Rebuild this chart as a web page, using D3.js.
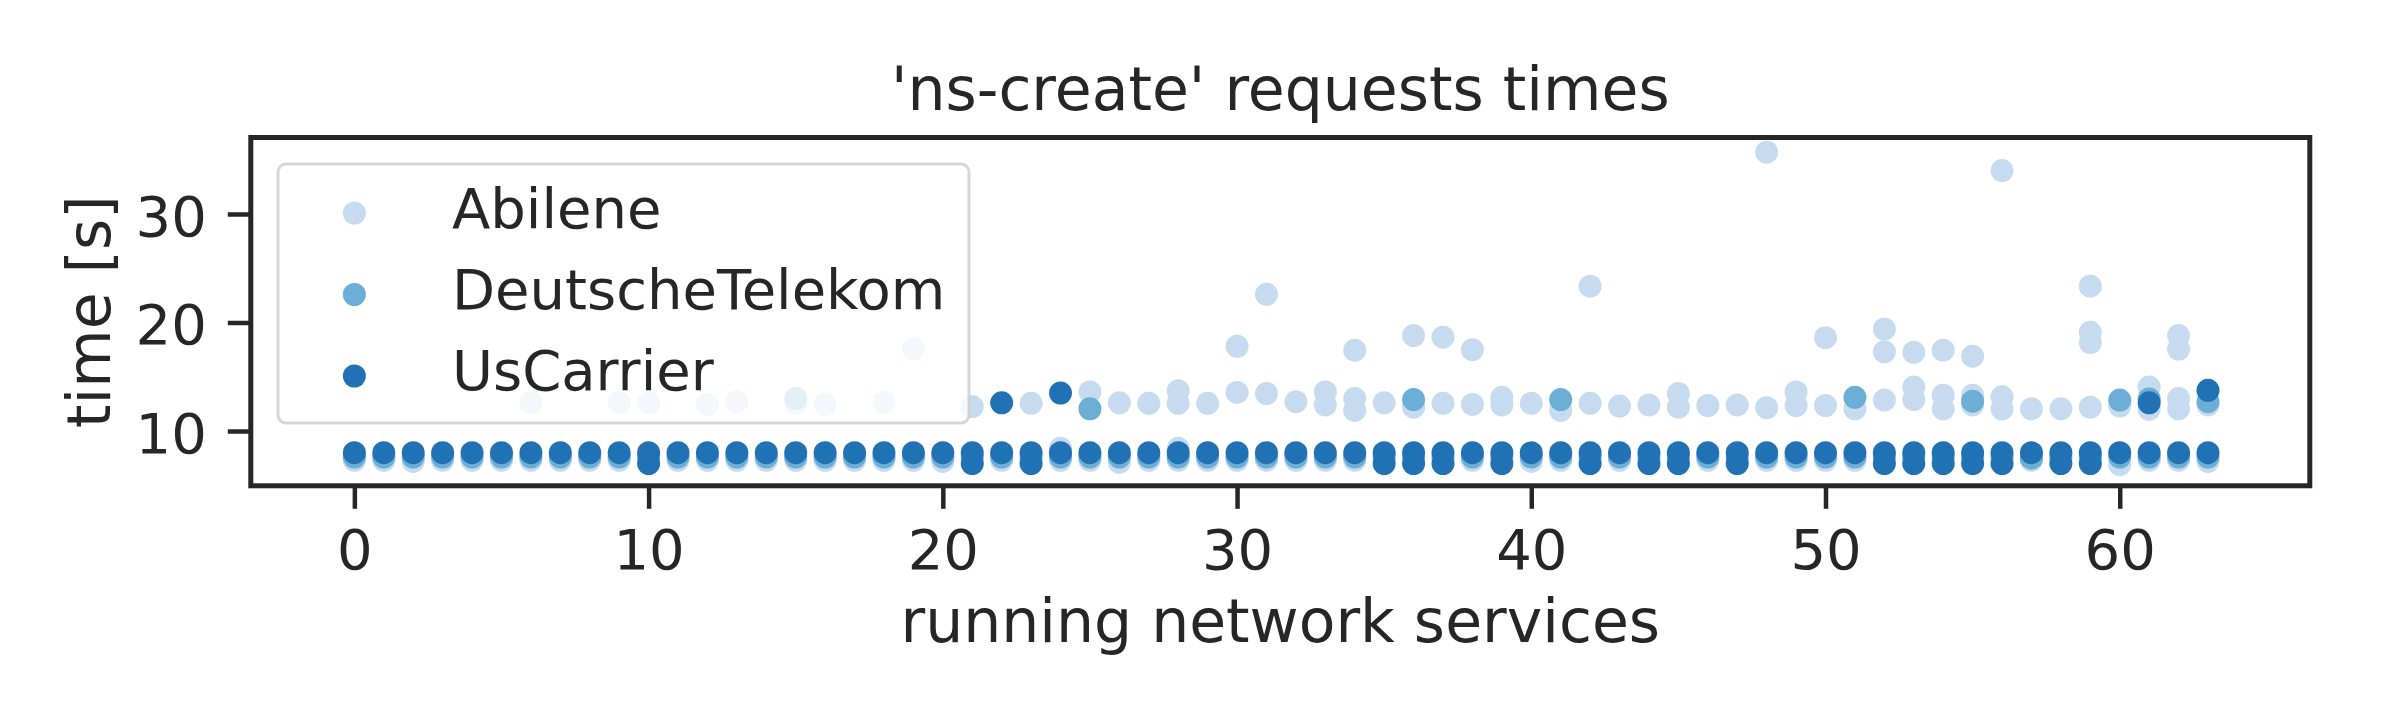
<!DOCTYPE html>
<html>
<head>
<meta charset="utf-8">
<script src="https://cdn.jsdelivr.net/npm/d3@7"></script>
<style>
  html, body { margin: 0; padding: 0; background: #ffffff; }
  svg { display: block; }
  text { font-family: "DejaVu Sans", sans-serif; fill: #262626; }
</style>
</head>
<body>
<svg id="chart" width="2400" height="720"></svg>
<script>
// ---------------- data ----------------
const titleText = "'ns-create' requests times";
const xLabel = "running network services";
const yLabel = "time [s]";
const seriesNames = ["Abilene", "DeutscheTelekom", "UsCarrier"];
const seriesColors = ["#c6dbef", "#6baed6", "#2171b5"];
const xTicks = [0, 10, 20, 30, 40, 50, 60];
const yTicks = [10, 20, 30];
const xCategories = [0,1,2,3,4,5,6,7,8,9,10,11,12,13,14,15,16,17,18,19,20,21,22,23,24,25,26,27,28,29,30,31,
  32,33,34,35,36,37,38,39,40,41,42,43,44,45,46,47,48,49,50,51,52,53,54,55,56,57,58,59,60,61,62,63];

// values (seconds) per x category, one inner list per category
const abilene = [
  [7.3],[7.3],[7.2],[7.3],[7.3],[7.3],[7.3,12.6],[7.3],
  [7.3],[7.3,12.6],[7.3,12.6],[7.3],[7.3,12.45],[7.3,12.7],[7.3],[7.3,12.6],
  [7.3,12.45],[7.3],[7.3,12.65],[7.3,17.6],[7.2],[7.3,12.25],[7.3],[7.3,12.55],
  [7.3,8.4],[7.3,13.6],[7.1,12.6],[7.3,12.55],[7.3,8.4,13.7,12.55],[7.3,12.55],[7.3,13.55,17.8],[7.3,13.45,22.6],
  [7.3,12.7],[7.3,13.6,12.4],[7.3,13.0,11.9,17.45],[7.3,12.6],[7.3,12.2,18.8],[7.3,12.55,18.65],[7.3,12.45,17.5],[7.3,13.1,12.4],
  [7.2,12.55],[7.3,11.9],[7.3,12.55,23.35],[7.3,12.3],[7.3,12.4],[7.3,13.45,12.2],[7.3,12.35],[7.3,12.4],
  [7.3,12.15,35.7],[7.3,13.6,12.35],[7.3,12.35,18.6],[7.3,12.05],[7.3,12.85,19.4,17.3],[7.3,14.05,12.9,17.25],[7.3,13.3,12.05,17.45],[7.3,13.3,12.4,16.9],
  [7.3,13.15,12.05,34.0],[7.3,12.05],[7.3,12.05],[7.3,12.2,23.35,19.1,18.15],[6.9,12.3],[7.3,14.05,12.0],[7.3,13.0,12.05,18.8,17.55],[7.2,12.4]
];
const deutscheTelekom = [
  [7.6],[7.6],[7.6],[7.6],[7.6],[7.6],[7.6],[7.6],
  [7.6],[7.6],[7.6],[7.6],[7.6],[7.6],[7.6],[7.6,13.0],
  [7.6],[7.6],[7.6],[7.6],[7.6],[7.6],[7.6],[7.6],
  [7.6],[7.6,12.05],[7.6],[7.6],[7.6],[7.6],[7.6],[7.6],
  [7.6],[7.6],[7.6],[7.6],[7.6,12.9],[7.6],[7.6],[7.6],
  [7.6],[7.6,12.9],[7.6],[7.6],[7.6],[7.6],[7.6],[7.6],
  [7.6],[7.6],[7.6],[7.6,13.1],[7.6],[7.6],[7.6],[7.6,12.75],
  [7.6],[7.5],[7.6],[7.6],[7.6,12.85],[7.6,12.95],[7.6],[7.6,12.7]
];
const usCarrier = [
  [8.0],[8.0],[8.0],[8.0],[8.0],[8.0],[8.0],[8.0],
  [8.0],[8.0],[8.0,7.0],[8.0],[8.0],[8.0],[8.0],[8.0],
  [8.0],[8.0],[8.0],[8.0],[8.0],[8.0,7.0],[8.0,12.6],[8.0,7.0],
  [8.0,13.5],[8.0],[8.0],[8.0],[8.0],[8.0],[8.0],[8.0],
  [8.0],[8.0],[8.0],[8.0,7.0],[8.0,7.0],[8.0,7.0],[8.0],[8.0,7.0],
  [8.0],[8.0],[8.0,7.0],[8.0],[8.0,7.0],[8.0,7.0],[8.0],[8.0,7.0],
  [8.0],[8.0],[8.0],[8.0],[8.0,7.0],[8.0,7.0],[8.0,7.0],[8.0,7.0],
  [8.0,7.0],[8.0],[8.0,7.0],[8.0,7.0],[8.0],[8.0,12.6],[8.0],[8.0,13.75]
];
const seriesValues = [abilene, deutscheTelekom, usCarrier];

// ---------------- layout ----------------
const svg = d3.select("#chart");
const plot = { left: 250.8, right: 2309.8, top: 137.5, bottom: 485.8 };
const x = d3.scaleLinear().domain([-3.52, 66.46]).range([plot.left, plot.right]);
const y = d3.scaleLinear().domain([4.95, 37.05]).range([plot.bottom, plot.top]);
const ink = "#262626";
const r = 11.5;

svg.append("rect").attr("width", 2400).attr("height", 720).attr("fill", "#ffffff");

// points
const points = [];
seriesValues.forEach((vals, si) => {
  vals.forEach((list, i) => {
    list.forEach(v => points.push({ s: si, x: xCategories[i], v: v }));
  });
});
svg.append("g").selectAll("circle").data(points).join("circle")
  .attr("cx", d => x(d.x))
  .attr("cy", d => y(d.v))
  .attr("r", r)
  .attr("fill", d => seriesColors[d.s]);

// axes
const xAxis = d3.axisBottom(x).tickValues(xTicks).tickSize(23).tickPadding(15).tickFormat(d3.format("d"));
const gx = svg.append("g").attr("transform", `translate(0,${plot.bottom})`).call(xAxis);
gx.select(".domain").remove();
gx.selectAll(".tick line").attr("stroke", ink).attr("stroke-width", 4.5);
gx.selectAll(".tick text").attr("font-size", 56).attr("fill", ink)
  .attr("font-family", "DejaVu Sans").attr("dy", null).attr("y", 83);

const yAxis = d3.axisLeft(y).tickValues(yTicks).tickSize(23).tickPadding(21).tickFormat(d3.format("d"));
const gy = svg.append("g").attr("transform", `translate(${plot.left},0)`).call(yAxis);
gy.select(".domain").remove();
gy.selectAll(".tick line").attr("stroke", ink).attr("stroke-width", 4.5);
gy.selectAll(".tick text").attr("font-size", 56).attr("fill", ink)
  .attr("font-family", "DejaVu Sans").attr("dy", "0.38em");

// frame
svg.append("rect")
  .attr("x", plot.left).attr("y", plot.top)
  .attr("width", plot.right - plot.left).attr("height", plot.bottom - plot.top)
  .attr("fill", "none").attr("stroke", ink).attr("stroke-width", 5);

// title and labels
svg.append("text").attr("x", (plot.left + plot.right) / 2).attr("y", 110)
  .attr("text-anchor", "middle").attr("font-size", 60).text(titleText);
svg.append("text").attr("x", (plot.left + plot.right) / 2).attr("y", 642)
  .attr("text-anchor", "middle").attr("font-size", 60).text(xLabel);
svg.append("text").attr("transform", `translate(110,${(plot.top + plot.bottom) / 2}) rotate(-90)`)
  .attr("text-anchor", "middle").attr("font-size", 60).text(yLabel);

// legend
const lg = svg.append("g");
lg.append("rect").attr("x", 278).attr("y", 164).attr("width", 691).attr("height", 259)
  .attr("rx", 8).attr("ry", 8)
  .attr("fill", "#ffffff").attr("fill-opacity", 0.8)
  .attr("stroke", "#cccccc").attr("stroke-opacity", 0.8).attr("stroke-width", 3);
const legendRows = [213, 294.5, 376];
const legendBaselines = [227.5, 309, 390];
seriesNames.forEach((name, i) => {
  lg.append("circle").attr("cx", x(0)).attr("cy", legendRows[i]).attr("r", r).attr("fill", seriesColors[i]);
  lg.append("text").attr("x", 452).attr("y", legendBaselines[i]).attr("font-size", 56).text(name);
});
</script>
</body>
</html>
